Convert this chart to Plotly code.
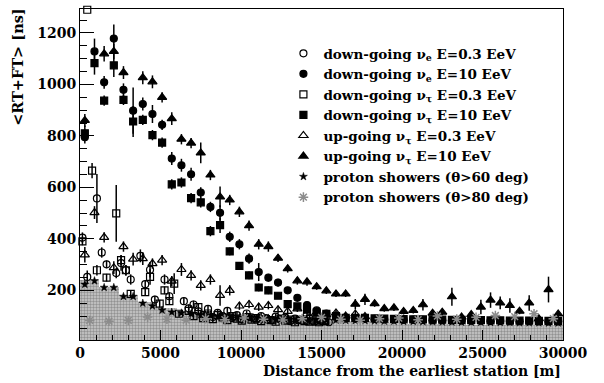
import numpy as np
import plotly.graph_objects as go

# ---------------- data ----------------
BIN600 = 600.0
BIN300 = 300.0
BIN1200 = 1200.0

nue10 = [795, 1128, 1008, 1178, 979, 898, 924, 885, 843, 712,
         686, 651, 580, 524, 501, 408, 379, 323, 271, 249,
         230, 200, 171, 143, 122, 110, 102, 94, 92, 90,
         89, 88, 87, 86, 86, 85, 84, 84, 83, 83,
         82, 82, 81, 81, 80, 80, 80, 79, 79, 80]
nue10_err = [25, 50, 25, 55, 25, 90, 25, 35, 20, 25,
             25, 25, 20, 20, 30, 20, 20, 20, 35, 15,
             15, 12, 10, 10, 10, 8, 8, 8, 8, 8,
             8, 8, 8, 8, 8, 8, 8, 8, 8, 8,
             8, 8, 8, 8, 8, 8, 8, 8, 8, 8]

nutau10 = [810, 1083, 937, 1074, 940, 856, 862, 803, 774, 612,
           619, 558, 542, 430, 453, 351, 295, 258, 211, 200,
           179, 146, 138, 125, 113, 109, 100, 93, 93, 93,
           91, 90, 89, 88, 87, 87, 86, 86, 85, 85,
           84, 84, 83, 83, 82, 82, 82, 81, 81, 80]
nutau10_err = [30, 45, 20, 45, 20, 60, 20, 20, 20, 20,
               20, 20, 20, 20, 30, 15, 15, 15, 15, 15,
               12, 10, 10, 10, 8, 8, 8, 8, 8, 8,
               8, 8, 8, 8, 8, 8, 8, 8, 8, 8,
               8, 8, 8, 8, 8, 8, 8, 8, 8, 8]

up10 = [860, None, 1119, 1128, 1046, None, 1026, 1010, 950, 867,
        787, 772, 734, 648, 563, 551, 505, 451, 379, 370,
        325, 284, 237, 233, 214, 198, 186, 186, 146, 165,
        148, 129, 132, 118, 122, 144, 111, 115, 175, 96,
        106, 135, 162, 151, 141, 119, 151, 90, 203, 108]
up10_err = [25, 0, 30, 30, 25, 0, 25, 25, 20, 25,
            20, 20, 40, 20, 40, 20, 20, 20, 20, 20,
            15, 15, 15, 15, 12, 12, 12, 12, 20, 22,
            12, 12, 12, 12, 12, 22, 12, 12, 35, 12,
            12, 28, 30, 25, 28, 12, 30, 12, 50, 12]

up03 = [338, 502, 406, 288, 370, 321, 323, 304, 317, 236,
        281, 258, 219, 242, 180, 200, 139, 145, 135, 141,
        125, 118, 128, 110, 115, 105, 112, 100, 108, 98,
        None, None, None, None, None, None, None, None, None, None,
        None, None, None, None, None, None, None, None, None, None]
up03_err = [30, 25, 20, 25, 20, 25, 25, 20, 20, 20,
            25, 20, 20, 20, 40, 20, 15, 15, 15, 15,
            15, 12, 12, 12, 12, 12, 12, 12, 12, 12,
            0, 0, 0, 0, 0, 0, 0, 0, 0, 0,
            0, 0, 0, 0, 0, 0, 0, 0, 0, 0]

nue03 = [405, 252, None, 557, 347, 301, None, 267, 306, 278,
         242, None, 334, 224, 280, 164, None, 242, 177, None,
         None, 158, 130, 145, 118, 105, 128, 96, 112, 100,
         120, 92, 104, 88, 110, 95, 86, 100, 92, 84,
         98, 88, 94, 80, 90, 86, 82, 92, 78, 85,
         80, 76] + [None] * 48
nue03_err = [20, 25, 0, 95, 20, 15, 0, 20, 30, 20,
             20, 0, 25, 15, 30, 15, 0, 20, 15, 0,
             0, 15, 15, 15, 15, 12, 15, 12, 12, 12,
             15, 12, 12, 12, 12, 12, 12, 12, 12, 12,
             12, 12, 12, 12, 12, 12, 12, 12, 12, 12,
             12, 12] + [0] * 48

nutau03 = [390, 1290, 665, 278, None, 249, None, 499, 317, 278,
           186, None, None, 193, 252, None, 148, 200, 158, 226,
           109, None, 120, 100, 135, 92, 110, 88, 104, 95,
           84, 100, 90, 82, 96, 86, 92, 80, 88, 84,
           78, 90, 82, 86, 76, 84, 80, 78, 82, 76,
           80] + [None] * 49
nutau03_err = [15, 0, 30, 20, 0, 15, 0, 110, 20, 20,
               15, 0, 0, 15, 30, 0, 15, 15, 15, 40,
               12, 0, 12, 12, 15, 12, 12, 12, 12, 12,
               12, 12, 12, 12, 12, 12, 12, 12, 12, 12,
               12, 12, 12, 12, 12, 12, 12, 12, 12, 12,
               12] + [0] * 49

p60 = [223, 237, 211, 211, 176, 176, 150, 139, 123, 115,
       112, 108, 105, 102, 100, 98, 96, 95, 93, 92,
       90, 89, 88, 87, 86, 85, 84, 83, 82, 82,
       81, 80, 80, 79, 79, 78, 78, 77, 77, 76,
       76, 76, 75, 75, 75, 74, 74, 74, 73, 73]
p60_err = [8] * 50

p80 = [83, 80, 83, 96, 88, 84, 90, 86, 92, 88,
       85, 90, 95, 88, 84, 90, 92, 86, 100, 88,
       95, 102, 98, 109, 90]

p60_hist = [239, 213, 180, 154, 132, 118, 110, 105, 102, 100,
            95, 92, 88, 84, 80, 76, 73, 71, 70, 68,
            67, 66, 65, 64, 64]

x_ticks = [0, 5000, 10000, 15000, 20000, 25000, 30000]
y_ticks = [200, 400, 600, 800, 1000, 1200]

names = ["down-going \u03bd<sub>e</sub> E=0.3 EeV",
         "down-going \u03bd<sub>e</sub> E=10 EeV",
         "down-going \u03bd<sub>\u03c4</sub> E=0.3 EeV",
         "down-going \u03bd<sub>\u03c4</sub> E=10 EeV",
         "up-going \u03bd<sub>\u03c4</sub> E=0.3 EeV",
         "up-going \u03bd<sub>\u03c4</sub> E=10 EeV",
         "proton showers (\u03b8>60 deg)",
         "proton showers (\u03b8>80 deg)"]

# ---------------- bin centres ----------------
x600 = np.arange(len(nue10)) * BIN600 + BIN600 / 2
x300 = np.arange(len(nue03)) * BIN300 + BIN300 / 2
x1200 = np.arange(len(p80)) * BIN1200 + BIN1200 / 2

FONT = "DejaVu Serif"
fig = go.Figure()

fig.add_trace(go.Bar(x=x1200, y=p60_hist, width=BIN1200, showlegend=False,
                     marker=dict(color="#c0c0c0", line=dict(width=0),
                                 pattern=dict(shape=".", fgcolor="#5a5a5a",
                                              bgcolor="#cacaca", size=3, solidity=0.5)),
                     hoverinfo="skip"))


def err(e):
    return dict(type="data", array=e, visible=True, color="black", thickness=1.5, width=0)


def add(x, y, e, name, symbol, size, color="black", lw=1.2, clip=True):
    fig.add_trace(go.Scatter(x=x, y=y, mode="markers", name=name,
                             error_y=err(e) if e is not None else None,
                             cliponaxis=clip,
                             marker=dict(symbol=symbol, size=size, color=color,
                                         line=dict(color=color, width=lw))))


add(x300, nue03, nue03_err, names[0], "circle-open", 7)
add(x600, nue10, nue10_err, names[1], "circle", 7)
add(x300, nutau03, nutau03_err, names[2], "square-open", 7, clip=False)
add(x600, nutau10, nutau10_err, names[3], "square", 7)
add(x600, up03, up03_err, names[4], "triangle-up-open", 8)
add(x600, up10, up10_err, names[5], "triangle-up", 8)
add(x600, p60, p60_err, names[6], "star", 6, lw=0.5)
add(x1200, p80, None, names[7], "asterisk-open", 8, color="#8c8c8c", lw=1.5)

fig.update_layout(
    width=604, height=383,
    margin=dict(l=80, r=41, t=9, b=43),
    plot_bgcolor="white", paper_bgcolor="white",
    bargap=0,
    font=dict(family=FONT, size=14, color="black"),
    legend=dict(x=(283 - 80) / 482, y=(340 - 38) / 331, xanchor="left", yanchor="top",
                bgcolor="rgba(0,0,0,0)", borderwidth=0,
                font=dict(family=FONT, size=13.5, weight="bold", color="black"),
                itemwidth=30, tracegroupgap=0),
    xaxis=dict(range=[0, 30000], tickvals=x_ticks, tickformat="d",
               ticks="inside", ticklen=10, tickwidth=1, tickcolor="black",
               showline=True, mirror=True, linecolor="black", linewidth=1,
               showgrid=False, zeroline=False,
               tickfont=dict(family=FONT, size=14, weight="bold"),
               minor=dict(dtick=1000, tick0=0, ticks="inside", ticklen=5,
                          tickcolor="black", showgrid=False)),
    yaxis=dict(range=[7, 1293], tickvals=y_ticks,
               ticks="inside", ticklen=14, tickwidth=1, tickcolor="black",
               showline=True, mirror=True, linecolor="black", linewidth=1,
               showgrid=False, zeroline=False,
               tickfont=dict(family=FONT, size=14, weight="bold"),
               minor=dict(dtick=50, tick0=0, ticks="inside", ticklen=7,
                          tickcolor="black", showgrid=False)),
    annotations=[
        dict(text="Distance from the earliest station [m]", xref="paper", yref="paper",
             x=1.0, y=(340 - 371) / 331, xanchor="right", yanchor="middle",
             showarrow=False, font=dict(family=FONT, size=14, weight="bold")),
        dict(text="&lt;RT+FT&gt; [ns]", xref="paper", yref="paper",
             x=(17 - 80) / 482, y=(340 - 67) / 331, xanchor="center", yanchor="middle",
             textangle=-90, showarrow=False,
             font=dict(family=FONT, size=14.5, weight="bold")),
    ],
)

fig.write_html("out.html")
